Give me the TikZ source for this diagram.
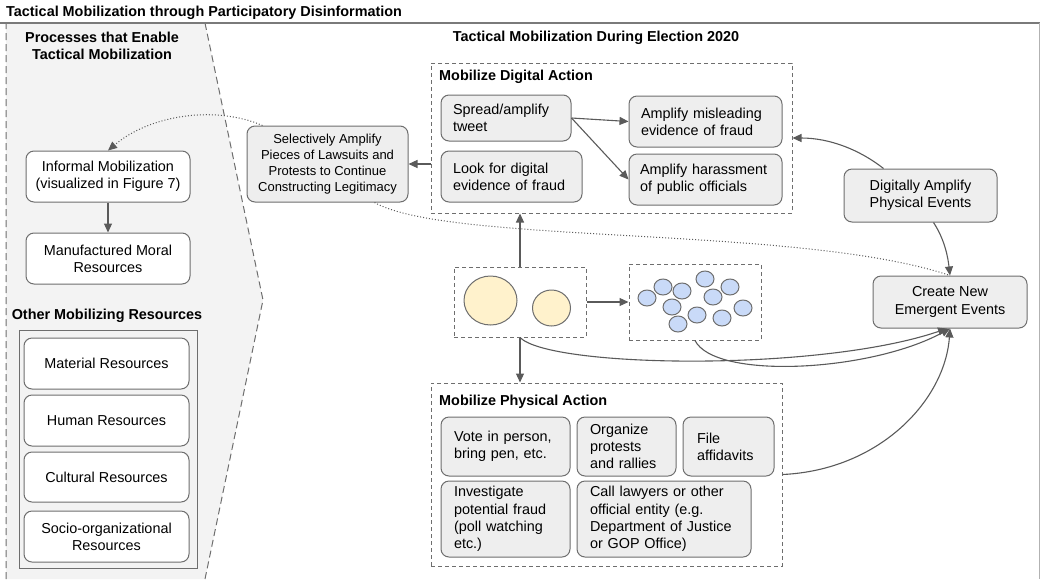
\documentclass[tikz,border=0pt]{standalone}
\usepackage{fontspec}
\setmainfont{Liberation Sans}
\usetikzlibrary{arrows.meta,calc}
\definecolor{bord}{HTML}{6E6E6E}
\definecolor{boxfill}{HTML}{EEEEEE}
\definecolor{panelfill}{HTML}{F3F3F3}
\definecolor{yel}{HTML}{FFF2CC}
\definecolor{blu}{HTML}{C9DAF8}
\definecolor{conn}{HTML}{5A5A5A}
\definecolor{topline}{HTML}{7A7A7A}
\begin{document}
\begin{tikzpicture}[x=1pt,y=-1pt,
 every node/.style={font=\fontsize{14.4}{17.3}\selectfont, text=black},
 rbox/.style={draw=bord, line width=1pt, rounded corners=8pt, inner sep=0pt},
 wbox/.style={rbox, fill=white, align=center},
 gbox/.style={rbox, fill=boxfill, align=center},
 lbox/.style={rbox, fill=boxfill, align=left},
 frame/.style={draw=bord, dash pattern=on 4pt off 3pt, line width=1pt, inner sep=0pt},
 conn/.style={draw=conn, line width=1.1pt, -{Triangle[length=9pt,width=8pt]}},
 plainconn/.style={draw=conn, line width=1.1pt},
 dots/.style={draw=conn, line width=1pt, dash pattern=on 1pt off 2pt},
 hd/.style={font=\fontsize{14.4}{16.5}\selectfont\bfseries, inner sep=0pt},
 yc/.style={fill=yel, draw=bord, line width=1pt},
 bc/.style={fill=blu, draw=bord, line width=1pt},
]
\useasboundingbox (0,0) rectangle (1040,579);

% left panel
\fill[panelfill] (6,23) -- (205,23) -- (263,300) -- (205,579) -- (6,579) -- cycle;
\draw[bord, line width=1pt, dash pattern=on 7pt off 4pt] (6,579) -- (6,23) (205,23) -- (263,300) -- (205,579);

% outer frame
\draw[topline, line width=2pt] (0,23) -- (1040,23);
\draw[gray!60, line width=1pt] (1039,23) -- (1039,579);

% headings
\node[hd, anchor=west] (title) at (6,13) {Tactical Mobilization through Participatory Disinformation};
\node[hd, align=center] (lefthd) at (102,46) {Processes that Enable\\Tactical Mobilization};
\node[hd] (otherhd) at (107,316) {Other Mobilizing Resources};
\node[hd] (elect) at (596,38) {Tactical Mobilization During Election 2020};

% left boxes
\node[wbox, minimum width=164pt, minimum height=51pt] (inf) at (108,176.5) {Informal Mobilization\\(visualized in Figure 7)};
\node[wbox, minimum width=164pt, minimum height=51pt] (man) at (108,258.5) {Manufactured Moral\\Resources};
\node[draw=bord, line width=1pt, minimum width=178pt, minimum height=238pt, inner sep=0pt] (resbox) at (108,449) {};
\node[wbox, minimum width=165pt, minimum height=51pt] (mat) at (106.5,363.5) {Material Resources};
\node[wbox, minimum width=165pt, minimum height=51pt] (hum) at (106.5,420.5) {Human Resources};
\node[wbox, minimum width=165pt, minimum height=50pt] (cul) at (106.5,477) {Cultural Resources};
\node[wbox, minimum width=165pt, minimum height=51pt] (soc) at (106.5,536.5) {Socio-organizational\\Resources};

% selectively amplify
\node[gbox, minimum width=161pt, minimum height=76pt, font=\fontsize{13}{15.8}\selectfont] (sel) at (327.5,164) {Selectively Amplify\\Pieces of Lawsuits and\\Protests to Continue\\Constructing Legitimacy};

% digital action
\node[frame, minimum width=361pt, minimum height=150pt] (dframe) at (611.5,138) {};
\node[hd, anchor=west] (dhd) at (439,77) {Mobilize Digital Action};
\node[lbox, minimum width=130pt, minimum height=46pt, text width=106pt] (spread) at (506,118) {Spread/amplify\\tweet};
\node[lbox, minimum width=141pt, minimum height=51pt, text width=117pt] (look) at (511.5,176.5) {Look for digital\\evidence of fraud};
\node[lbox, minimum width=153pt, minimum height=51pt, text width=129pt] (mis) at (705.5,121.5) {Amplify misleading\\evidence of fraud};
\node[lbox, minimum width=153pt, minimum height=51pt, text width=131pt] (har) at (705.5,179.5) {Amplify harassment\\of public officials};

% right boxes
\node[gbox, minimum width=153pt, minimum height=53pt] (dig) at (920.5,195.5) {Digitally Amplify\\Physical Events};
\node[gbox, minimum width=154pt, minimum height=52pt] (cre) at (950,302) {Create New\\Emergent Events};

% crowd frames
\node[frame, minimum width=132pt, minimum height=70pt] (yframe) at (520,302) {};
\node[frame, minimum width=132pt, minimum height=76pt] (bframe) at (695,302) {};
\draw[yc] (490.5,300.5) ellipse [x radius=26.5pt, y radius=24.5pt];
\draw[yc] (551.5,308) ellipse [x radius=19pt, y radius=18pt];
\foreach \cx/\cy in {647/298, 663/287, 682/291, 705/279, 730/287, 713/297, 672/307, 743/308, 697/315, 722/318, 678/324}
  \draw[bc] (\cx,\cy) ellipse [x radius=9pt, y radius=8pt];

% physical action
\node[frame, minimum width=351pt, minimum height=183pt] (pframe) at (606.5,474.5) {};
\node[hd, anchor=west] (phd) at (439,402) {Mobilize Physical Action};
\node[lbox, minimum width=129pt, minimum height=59pt, text width=103pt] (vote) at (505.5,446.5) {Vote in person,\\bring pen, etc.};
\node[lbox, minimum width=99pt, minimum height=59pt, text width=73pt] (org) at (626.5,446.5) {Organize\\protests\\and rallies};
\node[lbox, minimum width=91pt, minimum height=59pt, text width=63pt] (file) at (728.5,446.5) {File\\affidavits};
\node[lbox, minimum width=129pt, minimum height=76pt, text width=103pt] (inv) at (505.5,519) {Investigate\\potential fraud\\(poll watching\\etc.)};
\node[lbox, minimum width=174pt, minimum height=76pt, text width=148pt] (call) at (664,519) {Call lawyers or other\\official entity (e.g.\\Department of Justice\\or GOP Office)};

% connectors
\draw[conn] (inf.south) -- (man.north);
\draw[conn] (sel.east -| dframe.west) -- (sel.east);
\draw[conn] (spread.east) -- (mis.west);
\draw[conn] (spread.east) -- (har.west);
\draw[conn] ($(dig.north)+(-37,0)$) .. controls (860,150) and (830,138) .. (dframe.east);
\draw[conn] ($(dig.south)+(13,0)$) .. controls (945,240) and (948,258) .. (cre.north);
\draw[conn] (yframe.north) -- (yframe.north |- dframe.south);
\draw[conn] (yframe.east) -- (bframe.west);
\draw[conn] (yframe.south) -- (yframe.south |- pframe.north);
\draw[conn] (yframe.south) .. controls (550,368) and (820,372) .. ($(cre.south)+(-3,0)$);
\draw[conn] (bframe.south) .. controls (715,380) and (870,372) .. (cre.south);
\draw[conn] (pframe.east) .. controls (880,470) and (945,400) .. (cre.south);
\draw[dots] ($(sel.south)+(47,0)$) .. controls (450,245) and (800,225) .. (cre.north);
\draw[dots, -{Triangle[length=9pt,width=8pt]}] ($(sel.north west)+(16,0)$) .. controls (215,105) and (150,115) .. (inf.north);
\end{tikzpicture}
\end{document}
